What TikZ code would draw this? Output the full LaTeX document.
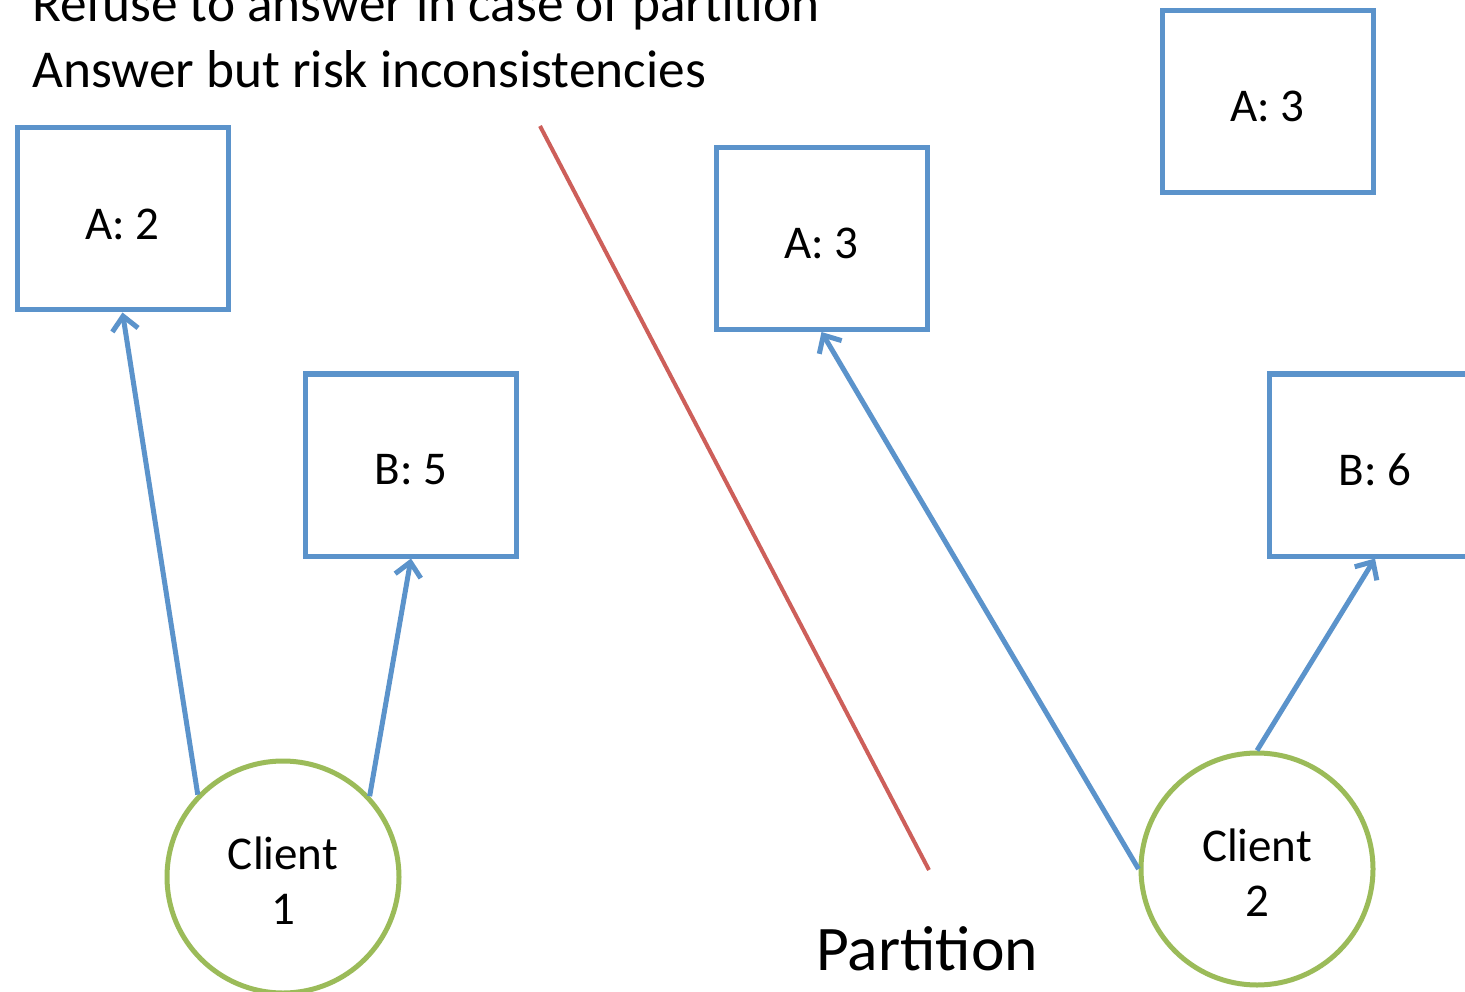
\documentclass[tikz,border=0pt]{standalone}
\usepackage{fontspec}
\setmainfont{Carlito}
\usetikzlibrary{arrows.meta}
\definecolor{boxblue}{HTML}{5B93CB}
\definecolor{clientgreen}{HTML}{9BBB59}
\definecolor{partred}{HTML}{CD5F5A}
\tikzset{
  server/.style={draw=boxblue, line width=5pt, minimum width=211pt, minimum height=182pt,
    inner sep=0pt},
  servertext/.style={yshift=-5pt, inner sep=0pt, font=\fontsize{47}{56}\selectfont},
  client/.style={circle, draw=clientgreen, line width=5pt, minimum size=232pt, inner sep=0pt},
  clienttext/.style={yshift=-4pt, inner sep=0pt, align=center, font=\fontsize{47}{55}\selectfont},
  request/.style={draw=boxblue, line width=5pt,
    -{Straight Barb[length=14pt, width=26pt, line width=5pt]}},
  heading/.style={anchor=base west, inner sep=0pt, font=\fontsize{53.3}{64}\selectfont}
}
\begin{document}
\begin{tikzpicture}[x=1pt, y=-1pt]
  \clip (0,0) rectangle (1465,992);
  \fill[white] (0,0) rectangle (1465,992);

  % strategy headings
  \node[heading] (refuse) at (32,22) {Refuse to answer in case of partition};
  \node[heading] (answer) at (32,88) {Answer but risk inconsistencies};

  % replicas on the left side of the partition
  \node[server] (a2) at (122.5,219) {};
  \node[server] (b5) at (411,465) {};

  % replicas on the right side of the partition
  \node[server] (a3top) at (1267.5,101.5) {};
  \node[server] (a3) at (821.5,238.5) {};
  \node[server] (b6) at (1375,465) {};

  % replica values
  \foreach \n/\v in {a2/A: 2, b5/B: 5, a3top/A: 3, a3/A: 3, b6/B: 6}
    \node[servertext] (\n-val) at (\n) {\v};

  % clients
  \node[client] (c1) at (283,877) {};
  \node[client] (c2) at (1257,869) {};
  \node[clienttext] (c1-name) at (c1) {Client\\1};
  \node[clienttext] (c2-name) at (c2) {Client\\2};

  % network partition
  \coordinate (ptop) at (540,126);
  \coordinate (pbot) at (929,870);
  \draw[partred, line width=4pt] (ptop) -- (pbot);
  \node[anchor=base, inner sep=0pt, font=\fontsize{63.5}{72}\selectfont] (plabel) at (927,970) {Partition};

  % client requests
  \draw[request] (c1.136) -- (a2.south);
  \draw[request] (c1.43) -- (b5.south);
  \draw[request] (c2.180) -- (a3.south);
  \draw[request] (c2.90) -- (b6.south);
\end{tikzpicture}
\end{document}
